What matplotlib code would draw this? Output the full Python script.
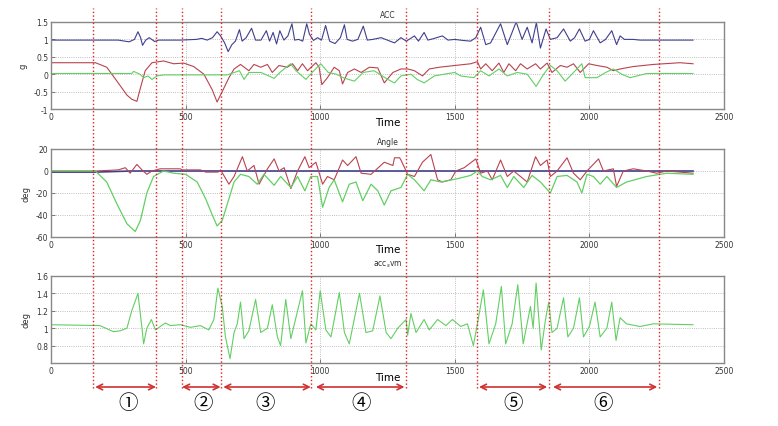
import matplotlib
matplotlib.use('Agg')
import matplotlib.pyplot as plt
from matplotlib.lines import Line2D
from matplotlib.transforms import blended_transform_factory

# ---------------- data (time, value) ----------------
acc_blue = [(0,0.98),(250,0.98),(290,0.93),(310,1.0),(323,1.22),(333,1.05),(340,0.83),(352,0.98),
            (365,1.05),(385,0.94),(400,0.98),(480,0.98),(540,1.0),(560,1.03),(580,0.98),(600,1.05),
            (617,1.22),(630,1.1),(645,0.9),(658,0.65),(672,0.85),(685,0.95),(700,1.28),(710,0.95),
            (725,1.05),(745,1.32),(760,0.98),(780,0.98),(800,1.25),(812,0.95),(825,1.2),(838,0.87),
            (850,1.25),(865,0.98),(880,1.1),(895,1.45),(905,0.98),(920,1.0),(935,0.95),(950,1.45),
            (960,1.15),(975,0.97),(990,1.05),(1005,0.98),(1020,1.4),(1035,0.95),(1055,0.88),(1075,1.05),
            (1090,1.42),(1100,1.0),(1120,0.95),(1140,1.0),(1160,1.38),(1175,0.98),(1195,1.0),(1226,1.05),
            (1276,0.9),(1300,1.05),(1320,0.95),(1350,1.1),(1365,0.95),(1386,1.2),(1400,0.98),(1420,1.02),
            (1454,1.1),(1475,0.98),(1500,1.0),(1530,0.97),(1559,0.95),(1578,1.05),(1596,1.35),(1615,0.85),
            (1633,0.9),(1670,1.45),(1695,0.85),(1728,1.5),(1750,1.0),(1769,1.35),(1787,0.9),(1803,1.48),
            (1818,0.75),(1839,1.3),(1855,1.0),(1880,1.05),(1904,1.3),(1929,0.95),(1945,1.05),(1963,1.3),
            (1984,0.95),(2000,1.0),(2015,1.25),(2040,0.9),(2060,1.0),(2083,1.25),(2101,0.85),(2114,1.1),
            (2130,1.0),(2163,1.0),(2188,0.98),(2385,0.98)]

acc_red = [(0,0.33),(165,0.33),(207,0.2),(245,-0.2),(282,-0.6),(300,-0.72),(319,-0.78),(332,-0.4),
           (350,0.1),(375,0.33),(418,0.38),(456,0.3),(493,0.32),(530,0.22),(568,0.0),(599,-0.45),
           (617,-0.8),(636,-0.5),(661,-0.1),(680,0.15),(704,0.28),(735,0.1),(754,0.28),(779,0.2),
           (804,0.28),(822,0.05),(847,0.25),(878,0.2),(897,0.3),(916,0.1),(934,0.3),(953,0.1),
           (984,0.33),(996,0.2),(1006,-0.3),(1027,-0.1),(1052,0.2),(1071,0.1),(1083,-0.28),(1102,0.05),
           (1127,0.15),(1152,0.05),(1183,0.2),(1214,0.18),(1238,-0.25),(1270,0.05),(1300,0.15),
           (1325,0.15),(1350,0.1),(1380,-0.05),(1405,0.15),(1442,0.2),(1500,0.25),(1559,0.3),
           (1584,0.36),(1596,0.15),(1615,0.3),(1639,0.1),(1664,0.32),(1682,0.05),(1701,0.3),
           (1726,0.1),(1744,0.3),(1769,0.15),(1800,0.3),(1818,0.15),(1843,0.32),(1861,0.05),
           (1892,0.25),(1917,0.2),(1941,0.3),(1966,0.05),(1997,0.3),(2028,0.25),(2065,0.2),
           (2089,0.1),(2114,0.15),(2163,0.22),(2237,0.28),(2336,0.33),(2385,0.3)]

acc_green = [(0,0.02),(300,0.02),(307,0.08),(330,0.0),(345,-0.1),(360,-0.05),(375,-0.15),(394,-0.05),
             (420,-0.02),(655,-0.02),(700,0.1),(717,-0.15),(735,0.05),(780,0.05),(829,-0.12),(850,0.05),
             (890,0.3),(910,0.1),(947,-0.15),(970,0.05),(1002,0.3),(1030,0.05),(1060,0.0),(1085,-0.1),
             (1127,-0.2),(1160,0.05),(1200,0.1),(1251,-0.15),(1276,-0.25),(1300,-0.05),(1337,0.0),
             (1360,-0.15),(1386,-0.25),(1424,-0.05),(1460,0.0),(1500,0.05),(1522,-0.05),(1571,-0.1),
             (1596,0.1),(1627,-0.05),(1664,0.15),(1695,-0.05),(1732,0.05),(1769,0.0),(1802,-0.35),
             (1830,0.0),(1855,0.25),(1880,0.1),(1910,-0.2),(1941,0.05),(1972,0.3),(1984,-0.1),
             (2028,-0.1),(2060,0.05),(2089,0.15),(2120,0.0),(2151,-0.1),(2213,0.02),(2385,0.02)]

ang_blue = [(0,-1),(165,-1),(300,0),(1000,0),(2385,0)]

ang_red = [(0,0),(165,0),(250,1),(276,3),(294,-2),(319,6),(338,1),(356,-3),(375,0),(406,2),(480,2),
           (487,1),(555,1),(575,-1),(620,-1),(630,1),(661,-12),(680,-5),(711,13),(729,0),(754,5),
           (773,-12),(804,2),(829,11),(847,0),(866,3),(891,-16),(916,0),(943,13),(959,3),(984,8),
           (1009,-12),(1027,-5),(1052,-8),(1083,10),(1102,5),(1133,13),(1152,-2),(1189,-3),(1238,8),
           (1270,5),(1276,12),(1295,12),(1300,10),(1325,-3),(1350,-5),(1380,8),(1411,15),(1436,-8),
           (1454,-10),(1485,-8),(1504,0),(1535,3),(1578,11),(1596,-2),(1621,0),(1639,-8),(1670,10),
           (1695,-5),(1719,0),(1744,-5),(1769,-10),(1800,13),(1818,5),(1843,10),(1855,-5),(1880,0),
           (1917,12),(1941,-2),(1966,-8),(1991,0),(2034,11),(2052,0),(2089,2),(2101,-14),(2126,0),
           (2163,2),(2213,0),(2250,-2),(2287,0),(2385,-2)]

ang_green = [(0,0),(165,0),(207,-10),(245,-30),(282,-48),(313,-55),(332,-45),(356,-20),(381,-5),
             (418,0),(456,-2),(500,-3),(543,-10),(574,-25),(599,-40),(617,-50),(636,-45),(655,-30),
             (680,-10),(704,-3),(735,-5),(766,-12),(791,-3),(829,-13),(853,-5),(891,-15),(916,-5),
             (943,-18),(965,-5),(990,-5),(1009,-33),(1033,-15),(1052,-8),(1083,-28),(1108,-12),
             (1133,-10),(1158,-27),(1189,-12),(1214,-18),(1238,-31),(1263,-18),(1300,-15),(1325,-3),
             (1350,-8),(1386,-18),(1411,-8),(1448,-10),(1510,-7),(1559,-4),(1584,0),(1602,-5),
             (1633,-8),(1670,-4),(1695,-15),(1719,-5),(1756,-15),(1787,-4),(1818,-10),(1855,-20),
             (1880,-5),(1917,-4),(1954,-10),(1972,-20),(1991,-3),(2015,-5),(2040,-12),(2065,-5),
             (2101,-15),(2138,-10),(2213,-5),(2287,-2),(2385,-3)]

svm_green = [(0,1.04),(182,1.03),(232,0.96),(257,0.97),(282,1.0),(300,1.2),(323,1.4),(338,1.0),
             (344,0.82),(356,1.0),(373,1.1),(388,0.98),(406,1.02),(425,1.06),(443,1.03),(481,1.04),
             (518,1.01),(555,1.03),(586,0.98),(605,1.1),(620,1.46),(636,1.25),(648,0.9),(665,0.65),
             (680,0.95),(692,1.05),(704,1.3),(717,0.88),(735,0.97),(760,1.33),(779,0.95),(804,1.0),
             (822,1.27),(841,0.9),(853,0.8),(872,1.33),(891,0.88),(934,1.43),(947,0.83),(965,1.05),
             (984,0.98),(1000,1.43),(1021,0.98),(1040,0.9),(1071,1.41),(1090,0.95),(1108,0.82),
             (1146,1.4),(1170,0.95),(1195,0.97),(1222,1.37),(1245,0.95),(1263,0.88),(1288,1.0),
             (1319,1.1),(1325,0.92),(1337,1.17),(1356,0.95),(1386,1.1),(1405,0.98),(1436,1.1),
             (1467,1.03),(1491,1.1),(1522,1.02),(1547,1.05),(1569,0.8),(1584,1.05),(1606,1.44),
             (1627,0.82),(1652,1.05),(1673,1.48),(1689,0.82),(1713,1.05),(1734,1.5),(1754,0.82),
             (1781,1.25),(1791,1.0),(1802,1.52),(1821,0.75),(1837,1.1),(1849,1.3),(1861,0.95),
             (1880,1.0),(1904,1.35),(1920,0.9),(1941,1.0),(1963,1.35),(1978,0.9),(2000,1.02),
             (2021,1.3),(2040,0.9),(2065,1.0),(2083,1.3),(2099,0.86),(2114,1.12),(2138,1.05),
             (2188,1.02),(2237,1.05),(2385,1.04)]

section_lines = [156, 390, 487, 631, 966, 1319, 1582, 1850, 2258]
arrow_spans = [(164, 390), (487, 630), (640, 965), (984, 1313), (1590, 1843), (1865, 2252)]
section_labels = ['①', '②', '③', '④', '⑤', '⑥']
label_x = [288, 565, 797, 1152, 1717, 2050]

titles = ['ACC', 'Angle', 'acc$_s$vm']
ylabels = ['g', 'deg', 'deg']
x_ticks = [0, 500, 1000, 1500, 2000, 2500]

# ---------------- drawing ----------------
C_BLUE = '#3f3f8f'
C_RED = '#b8434f'
C_GREEN = '#62cf62'


def xy(pairs):
    pairs = sorted(pairs, key=lambda p: p[0])
    return [p[0] for p in pairs], [p[1] for p in pairs]


fig = plt.figure(figsize=(7.78, 4.27), dpi=100)
W, H = 778.0, 427.0
L, R = 51 / W, 724 / W


def add_ax(top_px, bot_px):
    return fig.add_axes([L, 1 - bot_px / H, R - L, (bot_px - top_px) / H])


ax1 = add_ax(23, 110)
ax2 = add_ax(150, 238)
ax3 = add_ax(277, 364)
axes = [ax1, ax2, ax3]

ax1.plot(*xy(acc_blue), color=C_BLUE, lw=0.8)
ax1.plot(*xy(acc_red), color=C_RED, lw=0.8)
ax1.plot(*xy(acc_green), color=C_GREEN, lw=0.8)
ax2.plot(*xy(ang_blue), color=C_BLUE, lw=1.2)
ax2.plot(*xy(ang_red), color=C_RED, lw=0.8)
ax2.plot(*xy(ang_green), color=C_GREEN, lw=0.9)
ax3.plot(*xy(svm_green), color=C_GREEN, lw=0.8)

ylims = [(-1, 1.5), (-60, 20), (0.6, 1.6)]
yticks = [[-1, -0.5, 0, 0.5, 1, 1.5], [-60, -40, -20, 0, 20], [0.8, 1, 1.2, 1.4, 1.6]]
title_y = [1.09, 1.09, 1.14]
time_y = [-0.145, -0.135, -0.16]

for ax, t, yl, lim, yt, ty, tmy in zip(axes, titles, ylabels, ylims, yticks, title_y, time_y):
    ax.set_xlim(0, 2500)
    ax.set_ylim(*lim)
    ax.set_xticks(x_ticks)
    ax.set_xticklabels([str(v) for v in x_ticks])
    ax.set_yticks(yt)
    ax.set_yticklabels(['%g' % v for v in yt])
    ax.tick_params(direction='in', length=3, width=0.6, colors='#666666', labelsize=5.5,
                   labelcolor='#333333', pad=2)
    ax.grid(True, ls=':', color='#aaaaaa', lw=0.6)
    for s in ax.spines.values():
        s.set_color('#888888')
        s.set_linewidth(1.0)
    ax.text(0.5, ty, t, transform=ax.transAxes, ha='center', va='center', fontsize=5.5,
            color='#333333')
    ax.text(0.5, tmy, 'Time', transform=ax.transAxes, ha='center', va='center', fontsize=7.5,
            color='black')
    ax.set_ylabel(yl, fontsize=6, labelpad=4, color='#333333')

trans = blended_transform_factory(ax3.transData, fig.transFigure)
for x in section_lines:
    fig.add_artist(Line2D([x, x], [0.09, 0.98], transform=trans, color='#e02020', ls=':', lw=1.0))

arrow_y = 1 - 388 / H
for (a, b) in arrow_spans:
    ax3.annotate('', xy=(b, arrow_y), xycoords=trans, xytext=(a, arrow_y), textcoords=trans,
                 arrowprops=dict(arrowstyle='<->', color='#d03030', lw=1.2,
                                 shrinkA=0, shrinkB=0, mutation_scale=10),
                 annotation_clip=False)

lab_y = 1 - 404 / H
for lx, lab in zip(label_x, section_labels):
    fig.text(lx, lab_y, lab, transform=trans, ha='center', va='center', fontsize=14,
             family=['Noto Sans CJK SC', 'DejaVu Sans'])

fig.savefig('out.png', dpi=100)
